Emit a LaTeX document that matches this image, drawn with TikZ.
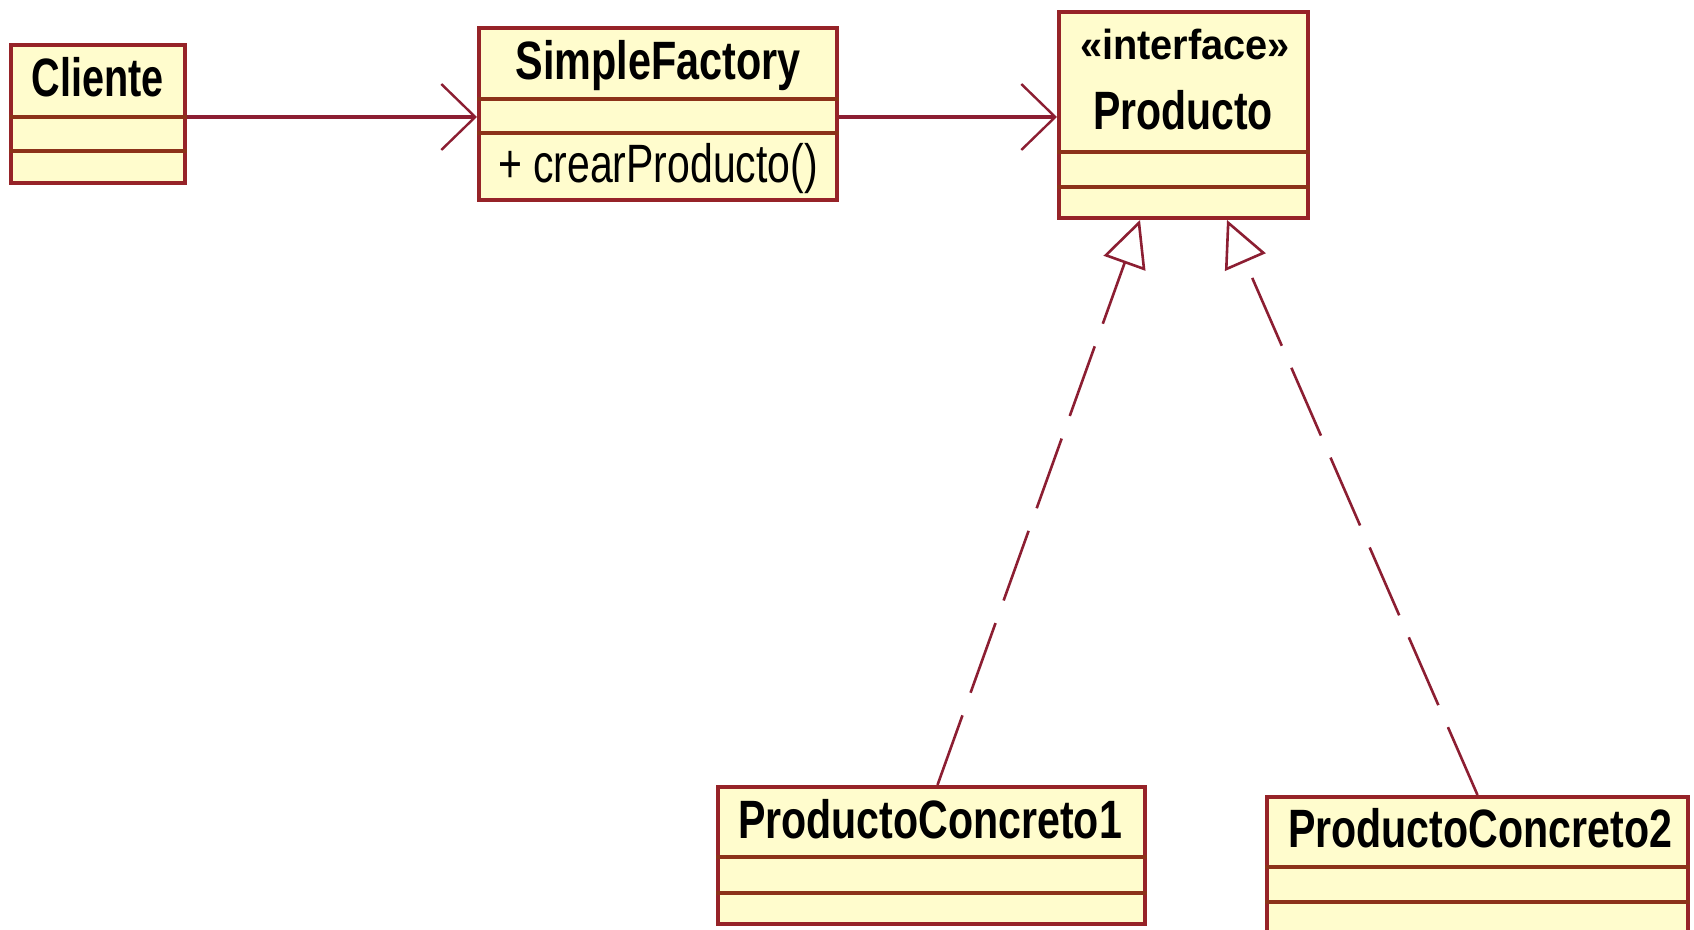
\documentclass[tikz,border=0pt]{standalone}
\usepackage{fontspec}
\setmainfont{Liberation Sans}
\usetikzlibrary{arrows.meta,fit}
\definecolor{umlborder}{RGB}{150,35,40}
\definecolor{umldiv}{RGB}{140,50,25}
\definecolor{umlfill}{RGB}{255,252,205}
\definecolor{umlline}{RGB}{140,30,50}
\newcommand\fitw[2]{\resizebox{#1}{\height}{#2}}
\begin{document}
\begin{tikzpicture}[x=0.5pt,y=-0.5pt,
  cls/.style={draw=umlborder, fill=umlfill, line width=2pt, inner sep=0pt, rectangle},
  divline/.style={draw=umldiv, line width=2pt},
  nametext/.style={anchor=base, inner sep=0pt, font=\fontsize{27}{30}\selectfont\bfseries},
  optext/.style={anchor=base, inner sep=0pt, font=\fontsize{27}{30}\selectfont},
  stereo/.style={anchor=base, inner sep=0pt, font=\fontsize{21}{24}\selectfont\bfseries},
  assoc/.style={draw=umlline, line width=2pt, -{Straight Barb[length=17pt,width=33pt,line width=1.2pt]}},
  realize/.style={draw=umlline, line width=1.3pt, dash pattern=on 37pt off 12pt, -{Triangle[open,length=23pt,width=22pt,line width=1.3pt]}},
]
\clip (0,0) rectangle (1694,930);
\fill[white] (0,0) rectangle (1694,930);

% class boxes
\node[cls, fit={(11,45)(185,183)}] (cliente) {};
\draw[divline] (cliente.west |- 0,117) -- (cliente.east |- 0,117);
\draw[divline] (cliente.west |- 0,151) -- (cliente.east |- 0,151);

\node[cls, fit={(479,28)(837,200)}] (sf) {};
\draw[divline] (sf.west |- 0,99) -- (sf.east |- 0,99);
\draw[divline] (sf.west |- 0,133) -- (sf.east |- 0,133);

\node[cls, fit={(1059,12)(1308,218)}] (prod) {};
\draw[divline] (prod.west |- 0,152) -- (prod.east |- 0,152);
\draw[divline] (prod.west |- 0,187) -- (prod.east |- 0,187);

\node[cls, fit={(718,787)(1145,924)}] (pc1) {};
\draw[divline] (pc1.west |- 0,857) -- (pc1.east |- 0,857);
\draw[divline] (pc1.west |- 0,893) -- (pc1.east |- 0,893);

\node[cls, fit={(1267,797)(1688,940)}] (pc2) {};
\draw[divline] (pc2.west |- 0,867) -- (pc2.east |- 0,867);
\draw[divline] (pc2.west |- 0,902) -- (pc2.east |- 0,902);

% texts
\node[nametext] (tcli) at (98,97) {\fitw{66pt}{Cliente}};
\node[nametext] (tsf) at (658,80) {\fitw{142.5pt}{SimpleFactory}};
\node[optext] (tcrear) at (658,183) {\fitw{160pt}{+ crearProducto()}};
\node[stereo] (tst) at (1185,60) {\fitw{105pt}{«interface»}};
\node[nametext] (tprod) at (1183,130) {\fitw{90pt}{Producto}};
\node[nametext] (tpc1) at (930,838) {\fitw{192pt}{ProductoConcreto1}};
\node[nametext] (tpc2) at (1480,847) {\fitw{192pt}{ProductoConcreto2}};

% connectors
\draw[assoc] ([yshift=-1.5pt]cliente.east) -- ([yshift=-1.5pt]cliente.east -| sf.west);
\draw[assoc] ([yshift=-1.5pt]sf.east) -- ([yshift=-1.5pt]sf.east -| prod.west);
\draw[realize] ([xshift=3pt]pc1.north) -- ([xshift=-21.75pt]prod.south);
\draw[realize] (pc2.north) -- ([xshift=21.75pt]prod.south);
\end{tikzpicture}
\end{document}
